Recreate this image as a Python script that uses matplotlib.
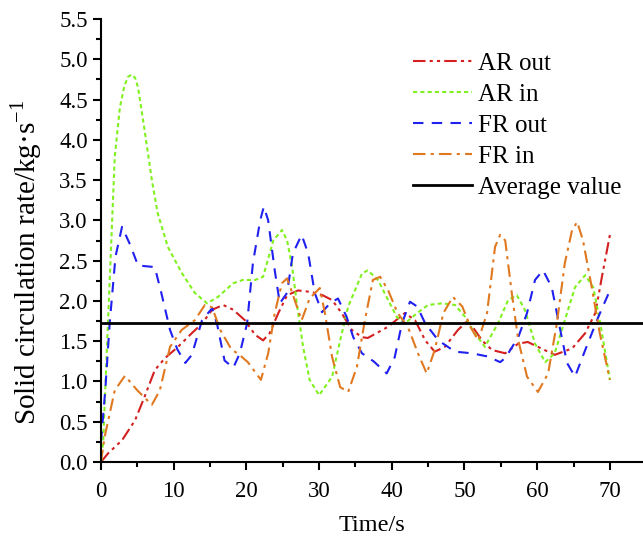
import matplotlib
matplotlib.use("Agg")
import matplotlib.pyplot as plt
from matplotlib.ticker import MultipleLocator

plt.rcParams['font.family'] = ['Liberation Serif', 'DejaVu Serif']
plt.rcParams['mathtext.fontset'] = 'custom'
plt.rcParams['mathtext.rm'] = 'Liberation Serif'

# AR out
ar_out_t = [0, 1.0, 2.9, 4.7, 6.0, 7.4, 8.8, 10.6, 12.5, 13.9, 15.3, 16.8, 18.2, 19.8, 21.2,
            22.3, 23.2, 24.4, 25.6, 27.1, 29.0, 30.5, 31.8, 33.1, 34.5, 35.9, 36.7, 39.5,
            41.8, 43.2, 44.6, 45.9, 47.3, 49.1, 50.5, 52.4, 53.8, 55.6, 57.4, 58.7, 60.1,
            62.4, 64.8, 66.6, 68.0, 68.9, 70.0]
ar_out_v = [0, 0.11, 0.27, 0.52, 0.81, 1.14, 1.29, 1.43, 1.6, 1.72, 1.89, 1.95, 1.89, 1.76, 1.58,
            1.51, 1.6, 1.85, 2.07, 2.13, 2.11, 2.07, 2.01, 1.85, 1.64, 1.55, 1.54, 1.68,
            1.85, 1.76, 1.51, 1.37, 1.43, 1.64, 1.76, 1.51, 1.39, 1.35, 1.47, 1.49, 1.43,
            1.33, 1.41, 1.6, 1.85, 2.3, 2.82]

# AR in
ar_in_t = [0, 0.3, 0.96, 1.9, 2.6, 3.2, 3.7, 4.2, 4.7, 5.1, 6.0, 7.0, 7.8, 9.2, 11.1, 12.9, 14.6, 16.1,
           18.2, 19.5, 21.2, 22.3, 23.7, 24.9, 25.6, 26.3, 27.0, 27.8, 28.7, 30.0, 31.8, 32.9,
           34.0, 35.9, 36.7, 38.1, 39.5, 40.7, 41.8, 43.5, 45.0, 46.9, 48.7, 50.1, 51.4,
           52.8, 54.6, 56.0, 57.2, 58.3, 59.7, 61.1, 62.4, 63.8, 65.2, 66.6, 67.7, 68.6, 70.0]
ar_in_v = [0, 0.24, 1.72, 3.79, 4.4, 4.66, 4.78, 4.81, 4.77, 4.65, 4.12, 3.5, 3.09, 2.67, 2.35, 2.1, 1.97, 2.05,
           2.22, 2.26, 2.26, 2.3, 2.75, 2.88, 2.75, 2.42, 1.93, 1.43, 1.02, 0.83, 1.06, 1.51,
           1.93, 2.34, 2.38, 2.26, 2.01, 1.8, 1.72, 1.85, 1.95, 1.97, 1.95, 1.8, 1.6,
           1.43, 1.72, 2.01, 2.07, 1.89, 1.47, 1.24, 1.35, 1.76, 2.17, 2.32, 2.17, 1.76, 1.02]

# FR out
fr_out_t = [0, 0.6, 1.2, 2.0, 2.9, 4.0, 5.1, 7.4, 8.3, 9.5, 10.5, 11.6, 12.5, 13.9, 15.3, 16.0,
            17.0, 18.2, 19.1, 20.1, 20.9, 21.9, 22.4, 23.0, 23.9, 24.6, 25.6, 26.4, 27.6, 28.5,
            29.4, 30.4, 31.5, 32.6, 33.8, 34.7, 35.9, 37.5, 39.3, 40.4, 41.4, 42.5, 43.5, 44.6,
            46.4, 48.7, 51.0, 53.2, 54.9, 55.6, 57.4, 58.6, 59.7, 60.8, 62.0, 62.9, 64.1,
            65.2, 66.6, 68.4, 70.0]
fr_out_v = [0.25, 0.9, 1.72, 2.55, 2.92, 2.7, 2.44, 2.42, 2.1, 1.64, 1.4, 1.23, 1.33, 1.76, 1.91, 1.7,
            1.26, 1.17, 1.35, 1.72, 2.47, 3.0, 3.17, 3.0, 2.38, 1.97, 2.1, 2.59, 2.82, 2.59,
            2.1, 1.86, 1.97, 2.03, 1.8, 1.55, 1.35, 1.25, 1.1, 1.3, 1.72, 1.99, 1.93, 1.72,
            1.51, 1.37, 1.35, 1.31, 1.24, 1.29, 1.55, 1.85, 2.26, 2.38, 2.17, 1.76, 1.23,
            1.06, 1.39, 1.8, 2.13]

# FR in
fr_in_t = [0, 0.5, 1.9, 3.3, 5.0, 7.0, 8.1, 9.5, 11.1, 12.9, 14.3, 15.3, 16.4, 18.0, 18.8, 20.2,
           22.0, 23.0, 23.9, 24.9, 25.6, 26.3, 27.6, 28.7, 30.1, 30.8, 31.8, 32.9, 34.0, 35.2,
           36.3, 37.4, 38.4, 39.5, 40.8, 42.2, 43.6, 44.8, 45.9, 47.1, 48.4, 49.7, 50.8, 51.9,
           53.1, 54.2, 54.9, 55.6, 56.5, 57.4, 58.6, 60.1, 61.5, 62.7, 63.8, 64.8, 65.5, 66.3,
           67.5, 68.6, 70.0]
fr_in_v = [0, 0.31, 0.89, 1.07, 0.89, 0.71, 0.89, 1.43, 1.64, 1.76, 1.95, 1.92, 1.64, 1.39, 1.35, 1.24,
           1.02, 1.35, 1.85, 2.22, 2.28, 2.1, 1.76, 2.03, 2.16, 1.85, 1.3, 0.93, 0.87, 1.18,
           1.76, 2.26, 2.3, 2.13, 1.85, 1.68, 1.35, 1.1, 1.39, 1.85, 2.05, 1.93, 1.68, 1.51,
           1.85, 2.67, 2.82, 2.75, 2.1, 1.51, 1.06, 0.87, 1.1, 1.72, 2.47, 2.88, 2.98, 2.75,
           2.17, 1.6, 1.02]

average = 1.72

fig = plt.figure(figsize=(6.43, 5.36), dpi=100)
ax = fig.add_axes([0.157, 0.138, 0.843, 0.8266])

lw = 1.5
ax.plot(ar_out_t, ar_out_v, color='#d42020', lw=lw, linestyle=(0, (6, 2, 1.5, 2, 1.5, 2)), label='AR out')
ax.plot(ar_in_t, ar_in_v, color='#80f020', lw=lw, linestyle=(0, (2, 1.5)), label='AR in')
ax.plot(fr_out_t, fr_out_v, color='#2020f0', lw=lw, linestyle=(0, (5, 4)), label='FR out')
ax.plot(fr_in_t, fr_in_v, color='#e07820', lw=lw, linestyle=(0, (6, 2.5, 1.5, 2.5)), label='FR in')
ax.axhline(average, color='black', lw=2, label='Average value')

ax.set_xlim(0, 74.55)
ax.set_ylim(0, 5.5)
ax.xaxis.set_major_locator(MultipleLocator(10))
ax.xaxis.set_minor_locator(MultipleLocator(5))
ax.yaxis.set_major_locator(MultipleLocator(0.5))
ax.yaxis.set_minor_locator(MultipleLocator(0.25))
ax.yaxis.set_major_formatter(plt.FormatStrFormatter('%.1f'))

for s in ['top', 'right']:
    ax.spines[s].set_visible(False)
for s in ['left', 'bottom']:
    ax.spines[s].set_linewidth(1.5)
ax.tick_params(which='major', direction='out', length=6, width=1.5, labelsize=16.5)
ax.tick_params(which='minor', direction='out', length=3.5, width=1.5)
ax.tick_params(axis='x', which='major', pad=8)

ax.set_xlabel('Time/s', fontsize=17.5, labelpad=9)
ax.set_ylabel('Solid circulation rate/kg·s$^{-1}$', fontsize=21)
ax.yaxis.set_label_coords(-0.105, 0.45)

ax.legend(loc='upper left', bbox_to_anchor=(0.535, 0.975), frameon=False, fontsize=18,
          handlelength=2.35, handletextpad=0.22, labelspacing=0.34)

fig.savefig('out.png', dpi=100)
